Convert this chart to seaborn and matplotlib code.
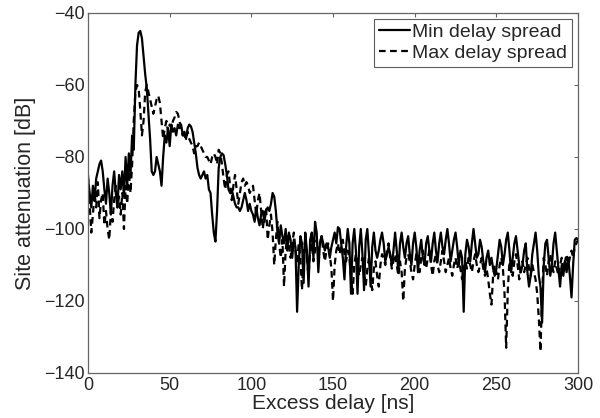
import numpy as np
import pandas as pd
import seaborn as sns
import matplotlib.pyplot as plt

# excess delay grid [ns], 1 ns steps
delay = np.arange(0, 301)

# site attenuation [dB]
min_spread = [
    -86, -90, -94, -88, -92, -86, -84, -82, -81, -84, -89, -93, -86, -90, -96, -88, -84, -90, -94, -85,
    -89, -84, -91, -80, -88, -79, -85, -74, -78, -60, -49, -45.5, -45, -47, -52, -57, -61, -68, -75, -84,
    -85, -84, -80, -82, -84, -88, -80, -74, -76, -72, -77, -71, -73, -72, -74, -71, -72, -71, -74, -73,
    -75, -72, -71, -71.5, -73, -76, -79, -83, -85, -86, -85, -84, -86, -85, -89, -90, -96, -101, -103.5, -95,
    -83, -80, -79, -79.5, -82, -85, -89, -90, -89, -91, -93, -94, -94, -95, -94, -92, -90, -92, -95, -93,
    -95, -96, -98, -94, -97, -99, -96, -95, -98, -95, -94, -95, -93, -90, -91, -95, -101, -104, -99, -102,
    -104, -100, -106, -101, -103, -108, -103, -105, -123, -110, -102, -104, -115, -101, -106, -116, -103, -101, -108, -98,
    -101, -112, -104, -102, -104, -106, -104, -105, -108, -105, -103, -101, -104, -99.5, -100, -104, -108, -114, -105, -100,
    -104, -118, -104, -100, -106, -118, -105, -100, -107, -117, -103, -100, -107, -116, -105, -101, -106, -108, -106, -103,
    -101, -104, -109, -107, -105, -107, -110, -106, -101, -106, -112, -104, -101, -105, -108, -104, -102, -107, -110, -104,
    -101, -105, -112, -106, -103, -108, -110, -104, -102, -106, -109, -104, -101, -106, -109, -104, -101, -105, -107, -103,
    -100, -104, -109, -106, -103, -101, -105, -110, -106, -108, -123, -107, -103, -105, -109, -104, -100, -104, -108, -107,
    -103, -105, -109, -112, -108, -106, -110, -108, -111, -113, -111, -107, -103, -105, -110, -107, -103, -101, -106, -112,
    -108, -104, -102, -106, -110, -112, -110, -106, -104, -112, -116, -113, -107, -104, -101, -106, -113, -116, -126, -110,
    -104, -103, -108, -113, -110, -104, -101, -106, -111, -116, -110, -113, -109, -112, -108, -113, -119, -110, -103, -102.5,
    -103,
]
max_spread = [
    -85, -93, -101, -96, -90, -94, -87, -97, -92, -90, -99, -95, -100, -103, -95, -98, -92, -88, -94, -91,
    -96, -90, -100, -88, -93, -84, -90, -82, -70, -62, -60, -61, -67, -74, -70, -62, -60, -62, -64, -66,
    -68, -66, -64, -63, -65, -70, -75, -72, -70, -73, -71, -72, -70, -69, -67.5, -68, -70, -72, -74, -74,
    -75, -73, -75, -76, -77, -79, -77, -77, -76, -77, -78, -79, -80, -80, -81, -82, -80, -79, -80, -82,
    -78, -79, -82, -86, -89, -85, -84, -88, -92, -88, -85, -89, -93, -90, -87, -86, -88, -87, -88, -90,
    -89, -88, -92, -96, -92, -90, -95, -100, -96, -94, -103, -99, -96, -101, -110, -103, -98, -104, -108, -103,
    -116, -106, -102, -105, -108, -104, -101, -106, -109, -104, -108, -117, -106, -103, -108, -113, -106, -104, -109, -106,
    -103, -106, -104, -102, -106, -109, -106, -104, -107, -111, -120, -110, -106, -104, -107, -105, -103, -107, -109, -106,
    -108, -113, -118, -110, -107, -109, -113, -110, -108, -112, -116, -111, -108, -113, -117, -111, -109, -113, -116, -110,
    -107, -108, -110, -106, -104, -108, -111, -109, -107, -110, -113, -109, -112, -120, -111, -108, -107, -109, -112, -114,
    -110, -107, -109, -112, -108, -106, -109, -111, -108, -106, -110, -113, -109, -107, -110, -112, -109, -106, -109, -112,
    -110, -108, -111, -113, -110, -108, -111, -109, -111, -114, -111, -109, -111, -108, -110, -112, -109, -107, -110, -112,
    -110, -108, -111, -113, -111, -114, -118, -121, -113, -110, -112, -114, -110, -108, -111, -118, -133, -117, -109, -111,
    -113, -109, -107, -110, -114, -111, -109, -112, -110, -108, -111, -113, -110, -112, -114, -118, -125, -134, -118, -108,
    -110, -113, -109, -107, -110, -112, -109, -111, -113, -110, -108, -111, -109, -107, -110, -108, -106, -108, -105, -104,
    -103,
]

df = pd.DataFrame({"delay": delay, "min": min_spread, "max": max_spread})

sns.set_style("white")
plt.rcParams['font.family'] = ['Liberation Sans', 'DejaVu Sans']

fig = plt.figure(figsize=(6, 4.18), dpi=100)
ax = fig.add_axes([0.1467, 0.1077, 0.8167, 0.8613])

sns.lineplot(data=df, x="delay", y="min", color="black", linewidth=1.6,
             label="Min delay spread", ax=ax)
sns.lineplot(data=df, x="delay", y="max", color="black", linewidth=1.6,
             label="Max delay spread", ax=ax)
ax.lines[1].set_linestyle((0, (3, 2)))

ax.set_xlim(0, 300)
ax.set_ylim(-140, -40)
ax.set_xticks([0, 50, 100, 150, 200, 250, 300])
ax.set_yticks([-140, -120, -100, -80, -60, -40])
ax.tick_params(direction="in", top=True, right=True, length=3, width=0.8,
               color="#666666", labelsize=13)
ax.tick_params(axis="x", pad=3)
ax.tick_params(axis="y", pad=2)
for s in ax.spines.values():
    s.set_color("#666666")
    s.set_linewidth(0.9)

ax.set_xlabel("Excess delay [ns]", fontsize=15, labelpad=0)
ax.set_ylabel("Site attenuation [dB]", fontsize=15.5, labelpad=6)

leg = ax.legend(loc="upper right", fontsize=14, frameon=True, fancybox=False,
                handlelength=1.6, handletextpad=0.1, borderpad=0.25,
                labelspacing=0.15, borderaxespad=0.3)
leg.legend_handles[1].set_linestyle((0, (3, 2)))
leg.get_frame().set_edgecolor("#333333")
leg.get_frame().set_linewidth(0.8)

plt.savefig("out.png", dpi=100)
